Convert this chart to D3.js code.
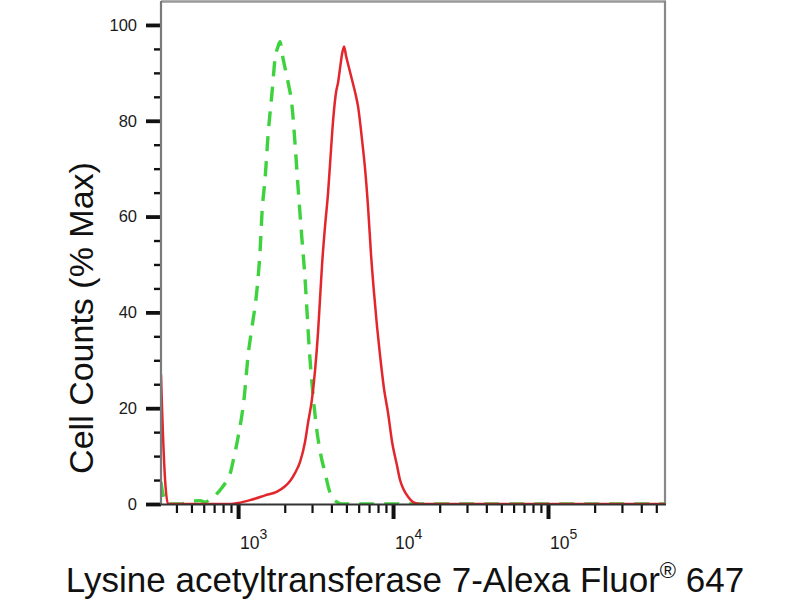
<!DOCTYPE html>
<html><head><meta charset="utf-8">
<script src="https://cdn.jsdelivr.net/npm/d3@7"></script>
<style>
html,body{margin:0;padding:0;background:#fff;}
svg{display:block;font-family:"Liberation Sans",Arial,sans-serif;}
</style></head>
<body>
<svg id="chart" width="800" height="600"></svg>
<script>
// ---- data ----
const xDomain = [318, 569000];
const yDomain = [0, 105];
const yMajorTicks = [0, 20, 40, 60, 80, 100];
const yMinorTicks = [5, 10, 15, 25, 30, 35, 45, 50, 55, 65, 70, 75, 85, 90, 95];
const xMajorTicks = [1e3, 1e4, 1e5];
const xMajorExp = ["3", "4", "5"];
const xMinorTicks = [400, 500, 600, 700, 800, 900, 2000, 3000, 4000, 5000, 6000, 7000, 8000, 9000,
                     20000, 30000, 40000, 50000, 60000, 70000, 80000, 90000, 200000, 300000, 400000, 500000];

const greenX = [318, 323, 338, 353, 422, 490, 569, 612, 660, 711, 765, 849, 888, 929, 1000, 1093, 1160, 1231, 1326, 1387,
                1428, 1494, 1561, 1657, 1733, 1811, 1866, 1923, 2010, 2102, 2230, 2333, 2439, 2587, 2705, 2787, 2871, 3001,
                3234, 3430, 3641, 3864, 4038, 4353, 4691, 14940, 569000];
const greenY = [4.6, 3, 0.8, 0, 0, 0.5, 0.7, 0.4, 1, 1.8, 2.9, 5, 6.3, 9, 14, 22, 31, 37, 45, 53,
                61, 68, 77, 86, 93, 95.5, 96.5, 94, 91, 88, 83, 75, 66, 55, 47, 40, 33, 25,
                15, 10, 6.5, 3, 1.3, 0.4, 0, 0, 0];

const redX = [318, 323, 338, 353, 422, 569, 900, 1000, 1195, 1494, 1786, 2010, 2165, 2333, 2512, 2705, 2829, 3001,
              3140, 3282, 3381, 3483, 3641, 3808, 3922, 4102, 4289, 4418, 4550, 4691, 4830, 4976, 5202, 5439, 5685,
              5944, 6310, 6596, 6897, 7212, 7541, 7884, 8245, 8748, 9285, 9852, 10613, 11097, 11600, 12497, 13460,
              14940, 569000];
const redY = [27, 20, 5, 0, 0, 0, 0, 0.2, 0.8, 1.8, 2.6, 3.7, 4.8, 6.5, 8.8, 13, 17, 22,
              28, 36, 43, 50, 58, 65, 71, 80, 86, 88, 91, 94, 95.5, 93.5, 91, 88.5, 86,
              83, 76, 70, 62, 52, 44, 37, 31, 24, 19, 13, 8, 5, 3.3, 1.5, 0.4,
              0, 0];

const yTitle = "Cell Counts (% Max)";
const xTitleMain = "Lysine acetyltransferase 7-Alexa Fluor";
const xTitleSup = "®";
const xTitleEnd = " 647";

// ---- layout ----
const L = 161, R = 665, T = 1, B = 504;
const svg = d3.select("#chart");
const x = d3.scaleLog().domain(xDomain).range([L, R]);
const y = d3.scaleLinear().domain(yDomain).range([B, T]);

svg.append("defs").append("clipPath").attr("id", "clip")
  .append("rect").attr("x", L).attr("y", T).attr("width", R - L).attr("height", B - T + 1);

// frame (top / right)
svg.append("line").attr("x1", L).attr("x2", R + 1).attr("y1", T + 0.5).attr("y2", T + 0.5)
  .attr("stroke", "#999").attr("stroke-width", 2.5);
svg.append("line").attr("x1", R).attr("x2", R).attr("y1", T).attr("y2", B)
  .attr("stroke", "#888").attr("stroke-width", 2.2);

// curves
const line = (xs, ys) => d3.line().x((d, i) => x(xs[i])).y((d, i) => y(ys[i]))
  .curve(d3.curveMonotoneX)(xs);
const plot = svg.append("g").attr("clip-path", "url(#clip)");
plot.append("path").attr("d", line(greenX, greenY))
  .attr("fill", "none").attr("stroke", "#3ed23e").attr("stroke-width", 3.4)
  .attr("stroke-dasharray", "15,10");
plot.append("path").attr("d", line(redX, redY))
  .attr("fill", "none").attr("stroke", "#e3262c").attr("stroke-width", 2.5)
  .attr("stroke-linejoin", "round");

// y axis
const yMinor = svg.append("g").attr("transform", `translate(${L},0)`)
  .call(d3.axisLeft(y).tickValues(yMinorTicks).tickSize(7).tickSizeOuter(0).tickFormat(""));
yMinor.select(".domain").remove();
yMinor.selectAll(".tick line").attr("stroke", "#111").attr("stroke-width", 2.4);
const yMajor = svg.append("g").attr("transform", `translate(${L},0)`)
  .call(d3.axisLeft(y).tickValues(yMajorTicks).tickSize(15).tickSizeOuter(0).tickPadding(9));
yMajor.select(".domain").remove();
yMajor.selectAll(".tick line").attr("stroke", "#111").attr("stroke-width", 3.8);
yMajor.selectAll(".tick text").attr("font-size", 16.5).attr("fill", "#1a1a1a")
  .attr("font-family", "'Liberation Sans',Arial,sans-serif");
svg.append("line").attr("x1", L).attr("x2", L).attr("y1", T).attr("y2", B + 1)
  .attr("stroke", "#7a7a7a").attr("stroke-width", 2.2);

// x axis
const xMinor = svg.append("g").attr("transform", `translate(0,${B})`)
  .call(d3.axisBottom(x).tickValues(xMinorTicks).tickSize(9).tickSizeOuter(0).tickFormat(""));
xMinor.select(".domain").remove();
xMinor.selectAll(".tick line").attr("stroke", "#111").attr("stroke-width", 2.2);
const xMajor = svg.append("g").attr("transform", `translate(0,${B})`)
  .call(d3.axisBottom(x).tickValues(xMajorTicks).tickSize(15).tickSizeOuter(0).tickFormat(""));
xMajor.select(".domain").remove();
xMajor.selectAll(".tick line").attr("stroke", "#111").attr("stroke-width", 4);
svg.append("line").attr("x1", L - 1).attr("x2", R + 1).attr("y1", B + 0.5).attr("y2", B + 0.5)
  .attr("stroke", "#333").attr("stroke-width", 2.2);

const xl = svg.append("g");
xMajorTicks.forEach((v, i) => {
  const t = xl.append("text").attr("x", x(v) + 2).attr("y", 549)
    .attr("font-size", 17.5).attr("fill", "#1a1a1a");
  t.append("tspan").text("10");
  t.append("tspan").attr("dy", -10).attr("font-size", 14).text(xMajorExp[i]);
});

// titles
svg.append("text").attr("transform", "translate(93,318) rotate(-90)")
  .attr("text-anchor", "middle").attr("font-size", 34).attr("fill", "#111").text(yTitle);

const xt = svg.append("text").attr("x", 405).attr("y", 592).attr("text-anchor", "middle")
  .attr("font-size", 35).attr("fill", "#111");
xt.append("tspan").text(xTitleMain);
xt.append("tspan").attr("dy", -14).attr("font-size", 22).text(xTitleSup);
xt.append("tspan").attr("dy", 14).text(xTitleEnd);
</script>
</body></html>
